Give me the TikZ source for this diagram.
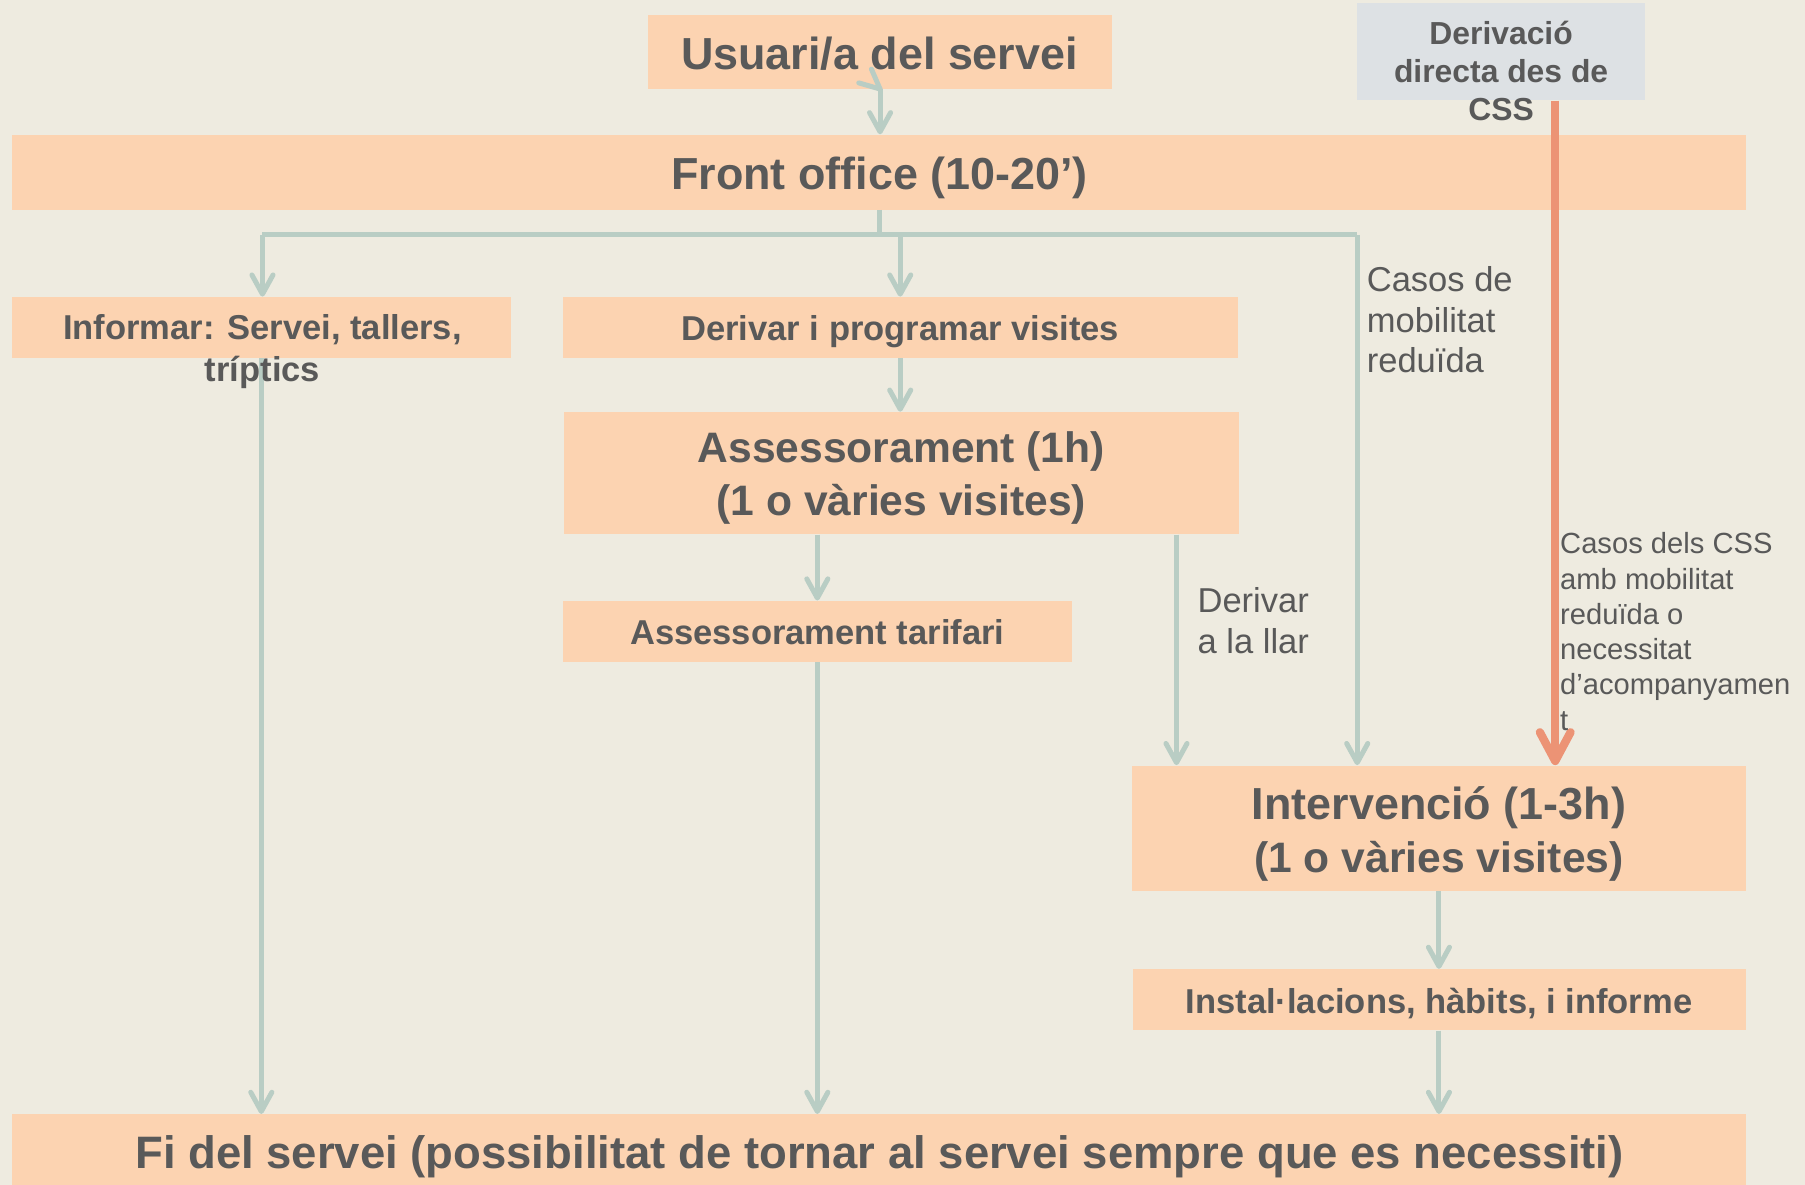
\documentclass[tikz,border=0pt]{standalone}
\usepackage{fontspec}
\setmainfont{Liberation Sans}
\usetikzlibrary{arrows.meta,fit}
\definecolor{bg}{HTML}{EEEBE0}
\definecolor{peach}{HTML}{FCD3B1}
\definecolor{bluegrey}{HTML}{DDE1E4}
\definecolor{conn}{HTML}{B9CDC4}
\definecolor{orng}{HTML}{EC9375}
\definecolor{txt}{HTML}{595959}
\begin{document}
\begin{tikzpicture}[x=0.6pt,y=-0.6pt,
  box/.style={fill=peach, draw=none, inner sep=0pt},
  bbox/.style={fill=bluegrey, draw=none, inner sep=0pt},
  lbl/.style={text=txt, inner sep=0pt},
  bigf/.style={font=\fontsize{23.4}{27.6}\selectfont\bfseries},
  fif/.style={font=\fontsize{23.7}{27.6}\selectfont\bfseries},
  assf/.style={font=\fontsize{22.2}{27.3}\selectfont\bfseries},
  midf/.style={font=\fontsize{18}{21.6}\selectfont\bfseries},
  derf/.style={font=\fontsize{16.6}{19.8}\selectfont\bfseries},
  regf/.style={font=\fontsize{18}{21.3}\selectfont},
  cssf/.style={font=\fontsize{15.2}{18.4}\selectfont},
  link/.style={draw=conn, line width=2.6pt},
  arr/.style={link, -{Straight Barb[length=10pt,width=11pt,round]}},
  oarr/.style={draw=orng, line width=4.3pt, -{Straight Barb[length=15pt,width=16pt,round]}}
]
\fill[bg] (0,0) rectangle (1568,1029);
\useasboundingbox (0,0) rectangle (1568,1029);

% boxes
\node[box, fit={(563,13) (966,77)}] (usu) {};
\node[box, fit={(10,117) (1517,182)}] (front) {};
\node[bbox, fit={(1179,3) (1429,87)}] (css) {};
\node[box, fit={(10,258) (444,311)}] (inf) {};
\node[box, fit={(489,258) (1075,311)}] (der) {};
\node[box, fit={(490,358) (1076,464)}] (ass) {};
\node[box, fit={(489,522) (931,575)}] (tar) {};
\node[box, fit={(983,665) (1517,774)}] (int) {};
\node[box, fit={(984,842) (1517,895)}] (ins) {};
\node[box, fit={(10,968) (1517,1035)}] (fi) {};

% helper coordinates
\coordinate (bus) at (764,204);
\coordinate (busL) at (228,204);
\coordinate (busR) at (1179,204);
\coordinate (xder) at (782,0);
\coordinate (xtar) at (710,0);
\coordinate (xllar) at (1022,0);
\coordinate (xor) at (1351,0);
\coordinate (hookA) at (757,60);
\coordinate (hookB) at (746,72);

% connectors
\draw[link, line cap=round] (usu.south) -- (hookA);
\draw[link, line cap=round] (usu.south) -- (hookB);
\draw[arr] (usu.south) -- (usu.south |- front.north);
\draw[link] (bus |- front.south) -- (bus);
\draw[link] (busL) -- (busR);
\draw[arr] (busL) -- (busL |- inf.north);
\draw[arr] (bus -| xder) -- (xder |- der.north);
\draw[arr] (busR) -- (busR |- int.north);
\draw[arr] (inf.south) -- (inf.south |- fi.north);
\draw[arr] (der.south -| xder) -- (xder |- ass.north);
\draw[arr] (ass.south -| xtar) -- (tar.north);
\draw[arr] (ass.south -| xllar) -- (xllar |- int.north);
\draw[arr] (tar.south) -- (tar.south |- fi.north);
\draw[arr] (int.south) -- (ins.north -| int.south);
\draw[arr] (ins.south -| int.south) -- (fi.north -| int.south);
\draw[oarr] (css.south -| xor) -- (xor |- int.north);

% texts
\node[lbl, bigf, anchor=base] (usuT) at (764,60) {Usuari/a del servei};
\node[lbl, bigf, anchor=base] (frontT) at (764,164.5) {Front office (10-20’)};
\node[lbl, derf, anchor=base] (cssT) at (1304,38.5) {\begin{tabular}[t]{@{}c@{}}Derivació\\directa des de\\CSS\end{tabular}};
\node[lbl, midf, anchor=base] (infT) at (228,295) {\begin{tabular}[t]{@{}c@{}}Informar: Servei, tallers,\\tríptics\end{tabular}};
\node[lbl, midf, anchor=base] (derT) at (782,296) {Derivar i programar visites};
\node[lbl, assf, anchor=base] (assT) at (783,402) {\begin{tabular}[t]{@{}c@{}}Assessorament (1h)\\(1 o vàries visites)\end{tabular}};
\node[lbl, midf, anchor=base] (tarT) at (710,560) {Assessorament tarifari};
\node[lbl, bigf, anchor=base] (intT) at (1250,712) {\begin{tabular}[t]{@{}c@{}}Intervenció (1-3h)\\\fontsize{22.2}{27.3}\selectfont(1 o vàries visites)\end{tabular}};
\node[lbl, midf, anchor=base] (insT) at (1250,880) {Instal·lacions, hàbits, i informe};
\node[lbl, fif, anchor=base] (fiT) at (764,1015) {Fi del servei (possibilitat de tornar al servei sempre que es necessiti)};
\node[lbl, regf, anchor=base west] (mobT) at (1187,253) {\begin{tabular}[t]{@{}l@{}}Casos de\\mobilitat\\reduïda\end{tabular}};
\node[lbl, regf, anchor=base west] (llarT) at (1040,532) {\begin{tabular}[t]{@{}l@{}}Derivar\\a la llar\end{tabular}};
\node[lbl, cssf, anchor=base west] (acoT) at (1355,481) {\begin{tabular}[t]{@{}l@{}}Casos dels CSS\\amb mobilitat\\reduïda o\\necessitat\\d’acompanyamen\\t\end{tabular}};
\end{tikzpicture}
\end{document}
